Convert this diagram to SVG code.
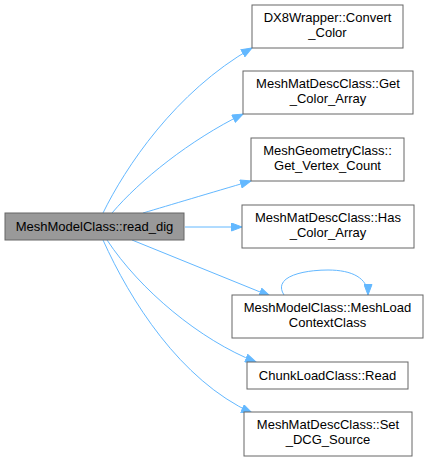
<svg xmlns="http://www.w3.org/2000/svg" width="428" height="461" viewBox="0 0 428 461">
<style>
.n rect{fill:#fff;stroke:#666;stroke-width:1}
.m rect{fill:#999;stroke:#666;stroke-width:1}
text{font-family:"Liberation Sans",Arial,sans-serif;font-size:13px;fill:#000;text-anchor:middle}
.e path{fill:none;stroke:#63b8ff;stroke-width:1}
</style>
<defs>
<marker id="ah" markerUnits="userSpaceOnUse" markerWidth="12" markerHeight="9" refX="11" refY="4.5" orient="auto">
<path d="M0.5,0.5 L11,4.5 L0.5,8.5 z" fill="#63b8ff" stroke="#63b8ff"/>
</marker>
</defs>
<rect width="428" height="461" fill="#fff"/>
<g class="e">
<path d="M103,213 C125,168 175,92 252,48" marker-end="url(#ah)"/>
<path d="M112,213 C140,180 190,140 243,114" marker-end="url(#ah)"/>
<path d="M143,213 C170,205 210,193 251,181" marker-end="url(#ah)"/>
<path d="M185,227 L242,227" marker-end="url(#ah)"/>
<path d="M132,240 L270,296" marker-end="url(#ah)"/>
<path d="M107,240 C140,290 200,340 256,362" marker-end="url(#ah)"/>
<path d="M103,240 C130,300 180,380 252,413" marker-end="url(#ah)"/>
<path d="M284,295 C272,276 305,270 328,270 C352,270 368,278 368,295" marker-end="url(#ah)"/>
</g>
<g id="main" class="m"><rect x="5" y="213" width="179" height="27"/><text x="94.5" y="231">MeshModelClass::read_dig</text></g>
<g id="n1" class="n"><rect x="252" y="5" width="151" height="43"/><text x="327.5" y="22">DX8Wrapper::Convert</text><text x="327.5" y="37">_Color</text></g>
<g id="n2" class="n"><rect x="243" y="71" width="170" height="43"/><text x="328" y="88">MeshMatDescClass::Get</text><text x="328" y="103">_Color_Array</text></g>
<g id="n3" class="n"><rect x="251" y="138" width="153" height="43"/><text x="327.5" y="155">MeshGeometryClass::</text><text x="327.5" y="170">Get_Vertex_Count</text></g>
<g id="n4" class="n"><rect x="242" y="205" width="172" height="43"/><text x="328" y="222">MeshMatDescClass::Has</text><text x="328" y="237">_Color_Array</text></g>
<g id="n5" class="n"><rect x="232" y="295" width="191" height="43"/><text x="327.5" y="312">MeshModelClass::MeshLoad</text><text x="327.5" y="327">ContextClass</text></g>
<g id="n6" class="n"><rect x="247" y="362" width="161" height="27"/><text x="327.5" y="380">ChunkLoadClass::Read</text></g>
<g id="n7" class="n"><rect x="244" y="412" width="168" height="44"/><text x="328" y="429">MeshMatDescClass::Set</text><text x="328" y="444">_DCG_Source</text></g>
</svg>
